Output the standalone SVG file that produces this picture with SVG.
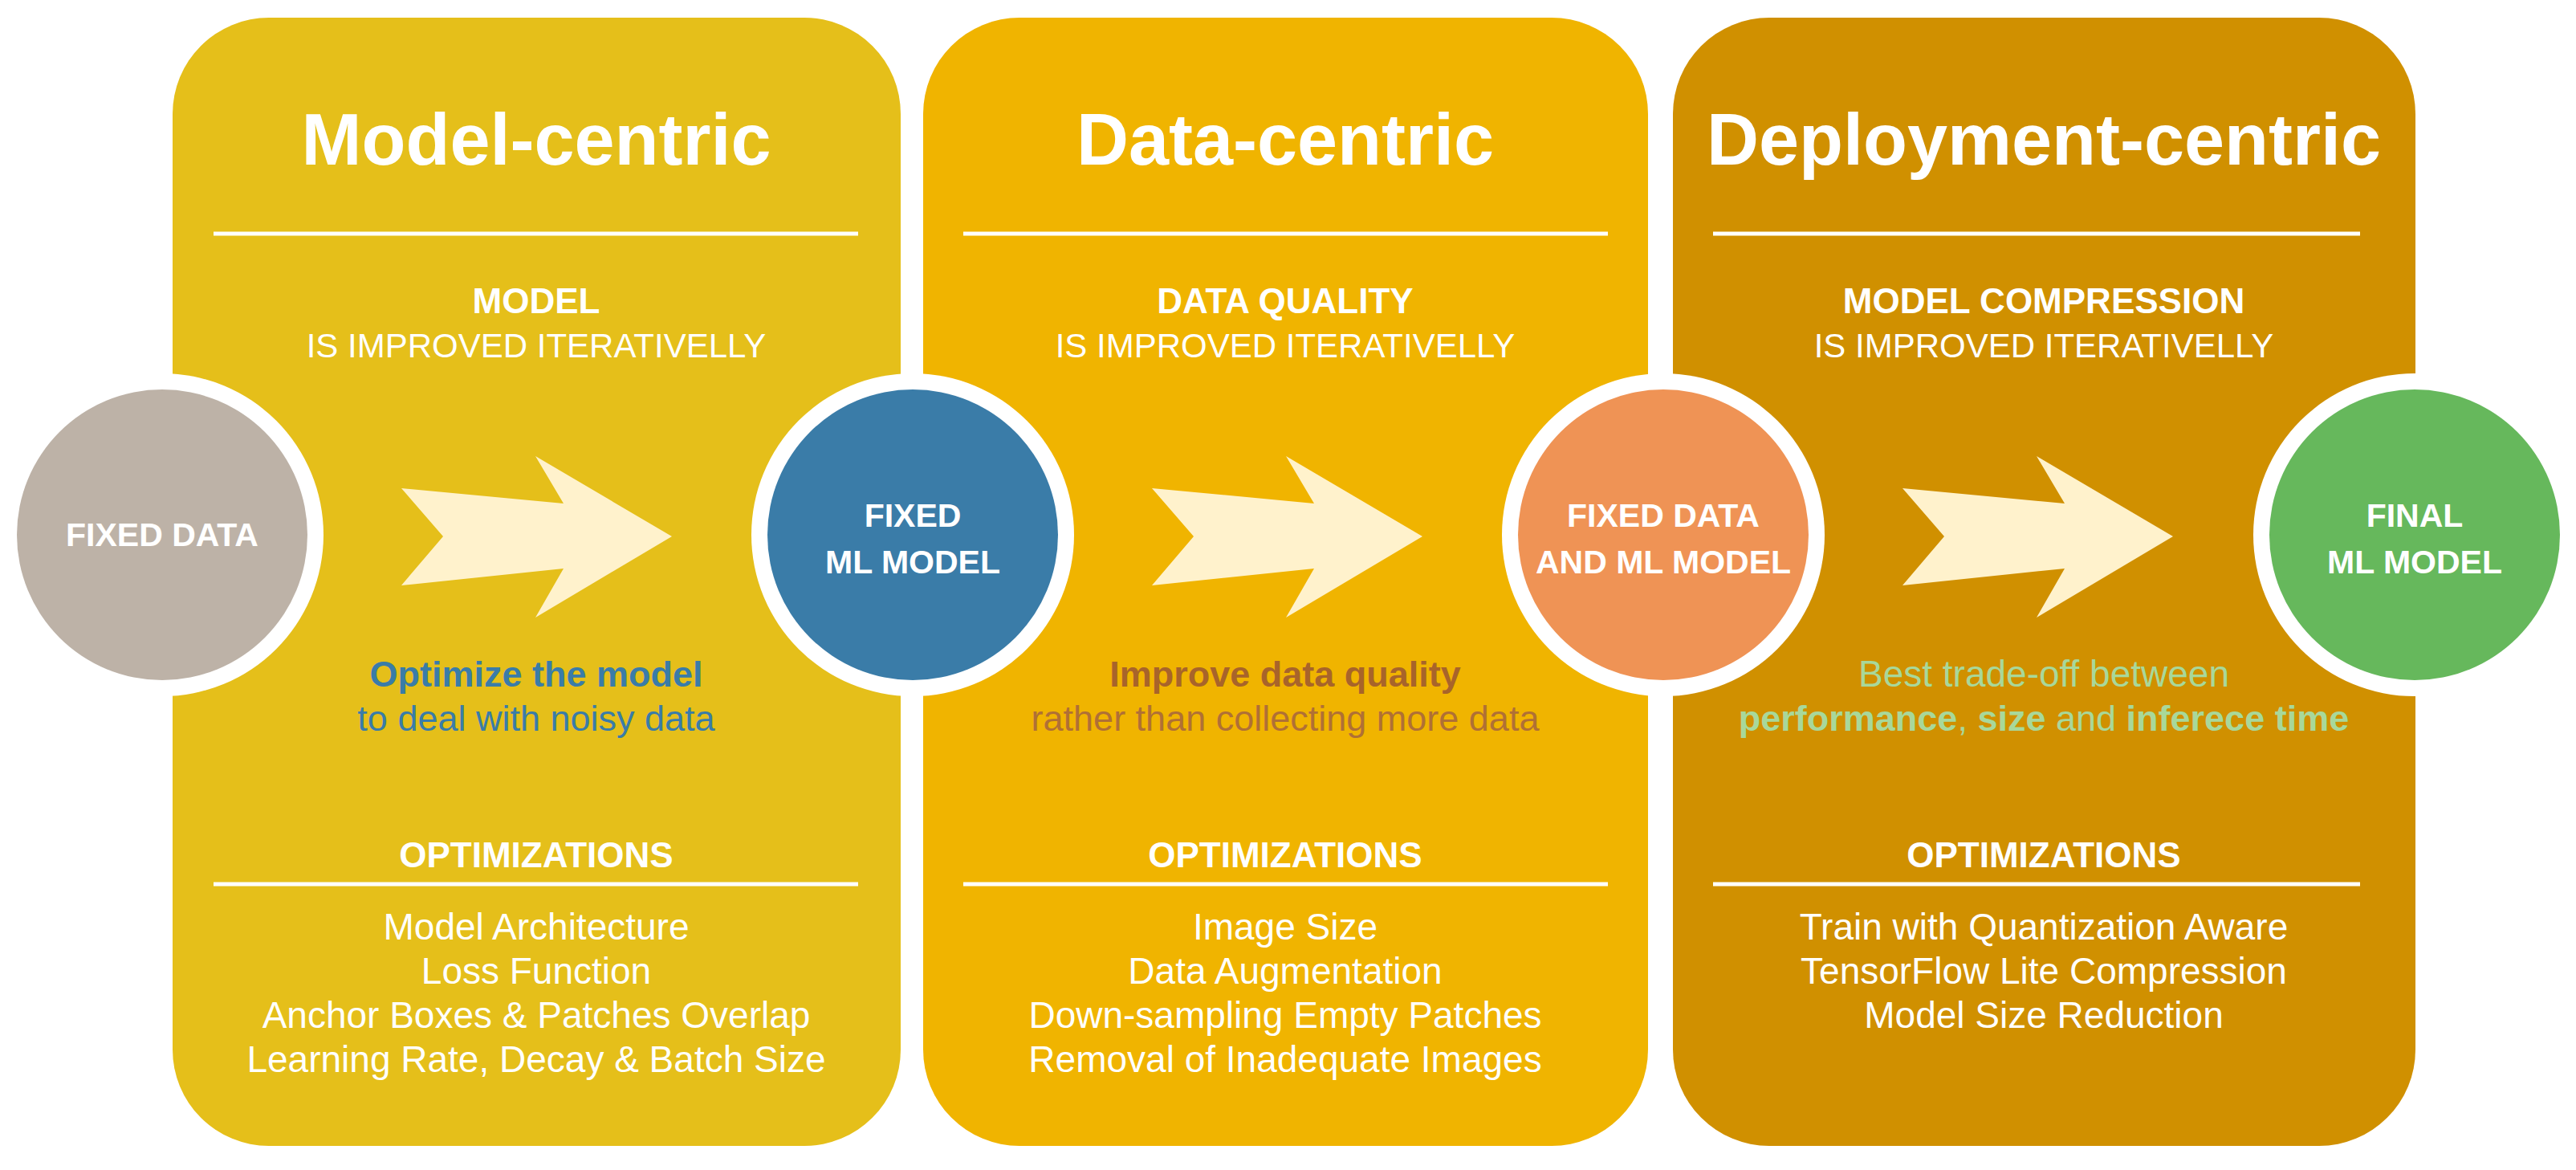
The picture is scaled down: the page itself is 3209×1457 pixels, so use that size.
<svg xmlns="http://www.w3.org/2000/svg" width="3209" height="1457" viewBox="0 0 3209 1457">
<style>
text{font-family:"Liberation Sans",Arial,sans-serif;text-anchor:middle;fill:#fff}
.t{font-size:90px;font-weight:bold}
.h{font-size:44px;font-weight:bold}
.s{font-size:42px}
.m{font-size:45px}
.i{font-size:46px}
.c{font-size:41px;font-weight:bold}
.ln{stroke:#fff;stroke-width:5}
.ring{fill:#fff}
.arr{fill:#FFF2CC}
</style>
<rect width="3209" height="1457" fill="#fff"/>
<g id="panel-model">
<rect x="215" y="22" width="907" height="1405" rx="120" fill="#E5BF1A"/>
<text class="t" x="668" y="205">Model-centric</text>
<line class="ln" x1="266" y1="291" x2="1069" y2="291"/>
<text class="h" x="668" y="390">MODEL</text>
<text class="s" x="668" y="445">IS IMPROVED ITERATIVELLY</text>
<text class="m" x="668" y="855" font-weight="bold" style="fill:#3A7CA8">Optimize the model</text>
<text class="m" x="668" y="910" style="fill:#3A7CA8">to deal with noisy data</text>
<text class="h" x="668" y="1080">OPTIMIZATIONS</text>
<line class="ln" x1="266" y1="1101" x2="1069" y2="1101"/>
<text class="i" x="668" y="1170">Model Architecture</text>
<text class="i" x="668" y="1225">Loss Function</text>
<text class="i" x="668" y="1280">Anchor Boxes &amp; Patches Overlap</text>
<text class="i" x="668" y="1335">Learning Rate, Decay &amp; Batch Size</text>
</g>
<g id="panel-data">
<rect x="1150" y="22" width="903" height="1405" rx="120" fill="#F0B400"/>
<text class="t" x="1601" y="205">Data-centric</text>
<line class="ln" x1="1200" y1="291" x2="2003" y2="291"/>
<text class="h" x="1601" y="390">DATA QUALITY</text>
<text class="s" x="1601" y="445">IS IMPROVED ITERATIVELLY</text>
<text class="m" x="1601" y="855" font-weight="bold" style="fill:#A8642A">Improve data quality</text>
<text class="m" x="1601" y="910" style="fill:#B07035">rather than collecting more data</text>
<text class="h" x="1601" y="1080">OPTIMIZATIONS</text>
<line class="ln" x1="1200" y1="1101" x2="2003" y2="1101"/>
<text class="i" x="1601" y="1170">Image Size</text>
<text class="i" x="1601" y="1225">Data Augmentation</text>
<text class="i" x="1601" y="1280">Down-sampling Empty Patches</text>
<text class="i" x="1601" y="1335">Removal of Inadequate Images</text>
</g>
<g id="panel-deploy">
<rect x="2084" y="22" width="925" height="1405" rx="120" fill="#D09000"/>
<text class="t" x="2546" y="205">Deployment-centric</text>
<line class="ln" x1="2134" y1="291" x2="2940" y2="291"/>
<text class="h" x="2546" y="390">MODEL COMPRESSION</text>
<text class="s" x="2546" y="445">IS IMPROVED ITERATIVELLY</text>
<text class="m" x="2546" y="855" style="fill:#A8D89A;font-size:46px">Best trade-off between</text>
<text class="m" x="2546" y="910" style="fill:#A8D89A"><tspan font-weight="bold">performance</tspan>, <tspan font-weight="bold">size</tspan> and <tspan font-weight="bold">inferece time</tspan></text>
<text class="h" x="2546" y="1080">OPTIMIZATIONS</text>
<line class="ln" x1="2134" y1="1101" x2="2940" y2="1101"/>
<text class="i" x="2546" y="1170">Train with Quantization Aware</text>
<text class="i" x="2546" y="1225">TensorFlow Lite Compression</text>
<text class="i" x="2546" y="1280">Model Size Reduction</text>
</g>
<g id="connectors">
<polygon class="arr" points="500,608 702,627 667,568 837,668 667,769 702,708 500,729 552,668"/>
<polygon class="arr" transform="translate(935,0)" points="500,608 702,627 667,568 837,668 667,769 702,708 500,729 552,668"/>
<polygon class="arr" transform="translate(1870,0)" points="500,608 702,627 667,568 837,668 667,769 702,708 500,729 552,668"/>
</g>
<g id="node-fixed-data">
<circle class="ring" cx="202" cy="666" r="201"/>
<circle cx="202" cy="666" r="181" fill="#BDB2A7"/>
<text class="c" x="202" y="680">FIXED DATA</text>
</g>
<g id="node-fixed-ml">
<circle class="ring" cx="1137" cy="666" r="201"/>
<circle cx="1137" cy="666" r="181" fill="#3A7CA8"/>
<text class="c" x="1137" y="656">FIXED</text>
<text class="c" x="1137" y="714">ML MODEL</text>
</g>
<g id="node-fixed-data-ml">
<circle class="ring" cx="2072" cy="666" r="201"/>
<circle cx="2072" cy="666" r="181" fill="#EF9355"/>
<text class="c" x="2072" y="656">FIXED DATA</text>
<text class="c" x="2072" y="714">AND ML MODEL</text>
</g>
<g id="node-final">
<circle class="ring" cx="3008" cy="666" r="201"/>
<circle cx="3008" cy="666" r="181" fill="#66B85C"/>
<text class="c" x="3008" y="656">FINAL</text>
<text class="c" x="3008" y="714">ML MODEL</text>
</g>
</svg>
